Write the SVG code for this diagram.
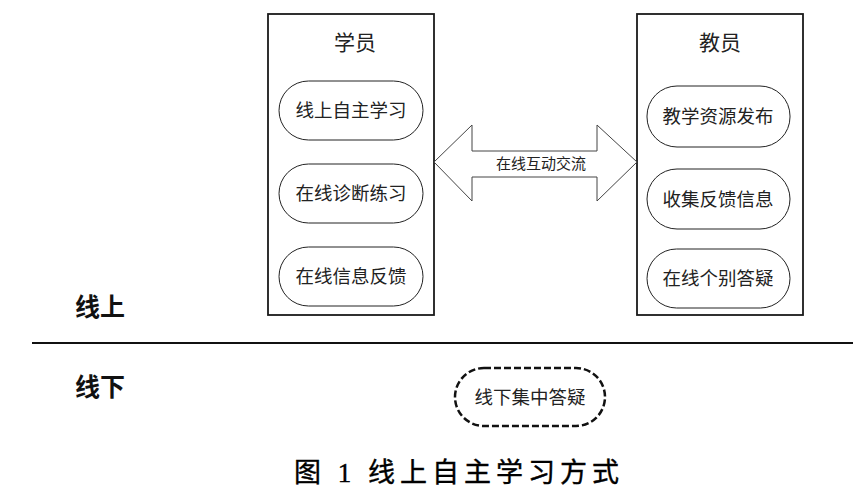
<svg xmlns="http://www.w3.org/2000/svg" width="853" height="497" viewBox="0 0 853 497">
<style>
.box{fill:#fff;stroke:#1a1a1a;stroke-width:1.8}
.pill{fill:#fff;stroke:#222;stroke-width:1}
.t{font-family:"Noto Sans CJK SC","Liberation Sans",sans-serif;fill:#222;text-anchor:middle}
.p{font-size:18.5px}
.h{font-size:21px}
.side{font-family:"Noto Sans CJK SC","Liberation Sans",sans-serif;fill:#111;font-size:25px;font-weight:bold}
.cap{font-family:"Liberation Serif","Noto Sans CJK SC",serif;fill:#000;font-size:27px;letter-spacing:5px;stroke:#000;stroke-width:0.4}
</style>
<rect width="853" height="497" fill="#fff"/>
<g id="students">
<rect class="box" x="268" y="14" width="166" height="301"/>
<text class="t h" x="355" y="50">学员</text>
</g>
<g id="s1"><rect class="pill" x="279" y="81" width="144" height="59" rx="29.5"/><text class="t p" x="351" y="117">线上自主学习</text></g>
<g id="s2"><rect class="pill" x="279" y="164" width="144" height="59" rx="29.5"/><text class="t p" x="351" y="200">在线诊断练习</text></g>
<g id="s3"><rect class="pill" x="279" y="247" width="144" height="59" rx="29.5"/><text class="t p" x="351" y="283">在线信息反馈</text></g>
<g id="teachers">
<rect class="box" x="637" y="14" width="166" height="301"/>
<text class="t h" x="720" y="50">教员</text>
</g>
<g id="t1"><rect class="pill" x="647" y="86" width="143" height="61" rx="30"/><text class="t p" x="718" y="123">教学资源发布</text></g>
<g id="t2"><rect class="pill" x="647" y="169" width="143" height="60" rx="30"/><text class="t p" x="718" y="206">收集反馈信息</text></g>
<g id="t3"><rect class="pill" x="647" y="249" width="143" height="59" rx="29.5"/><text class="t p" x="718" y="285">在线个别答疑</text></g>
<g id="connectors">
<polygon points="434,162 472,125 472,151 597,151 597,125 637,162 597,201 597,177 472,177 472,201" fill="#fff" stroke="#444" stroke-width="1"/>
<text class="t" font-size="15" x="541" y="169">在线互动交流</text>
<line x1="32" y1="343" x2="853" y2="343" stroke="#111" stroke-width="2"/>
</g>
<g id="offline">
<rect x="455" y="368" width="150" height="58" rx="29" fill="#fff" stroke="#111" stroke-width="2.5" stroke-dasharray="7,3"/>
<text class="t p" x="530" y="404">线下集中答疑</text>
</g>
<text class="side" x="75" y="316">线上</text>
<text class="side" x="75" y="396">线下</text>
<text class="cap" x="294" y="482">图 1 线上自主学习方式</text>
</svg>
